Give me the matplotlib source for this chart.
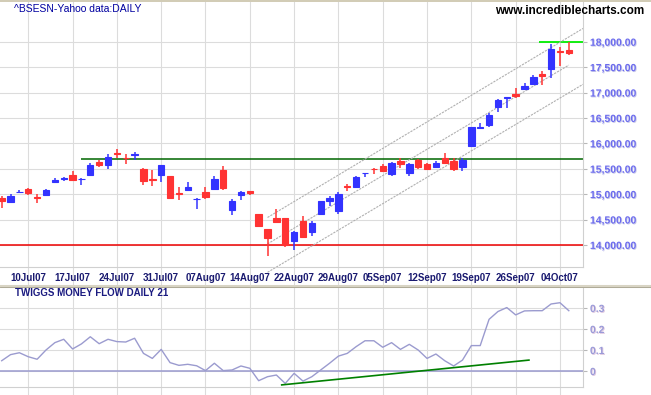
import numpy as np
import matplotlib
matplotlib.use("Agg")
import matplotlib.pyplot as plt
from matplotlib.lines import Line2D
import matplotlib.patheffects as pe

plt.rcParams['font.family'] = ['Liberation Sans', 'DejaVu Sans']

# ---------------- data ----------------
opens = [14933, 14853, 15040, 15107, 14940, 14973, 15233, 15300, 15367, 15293,
         15373, 15627, 15573, 15807, 15720, 15780, 15487, 15293, 15373, 15347,
         15027, 15073, 14900, 15047, 15100, 15469, 14685, 14990, 15067, 14600,
         14323, 14521, 14521, 14073, 14461, 14250, 14606, 14863, 14666, 15166,
         15140, 15410, 15500, 15548, 15403, 15653, 15420, 15673, 15593, 15540,
         15706, 15653, 15540, 15939, 16310, 16357, 16717, 16890, 16969, 17069,
         17169, 17368, 17468, 17810, 17847]
highs = [14967, 15000, 15080, 15127, 15000, 15100, 15320, 15340, 15447, 15313,
         15607, 15667, 15787, 15880, 15787, 15827, 15507, 15467, 15567, 15347,
         15147, 15247, 14920, 15147, 15351, 15548, 14909, 15054, 15067, 14600,
         14323, 14698, 14534, 14283, 14560, 14461, 14857, 14955, 15035, 15199,
         15351, 15423, 15522, 15588, 15641, 15719, 15606, 15692, 15619, 15653,
         15806, 15706, 15719, 16324, 16391, 16604, 16870, 16916, 17082, 17182,
         17348, 17415, 17960, 17900, 17987]
lows = [14733, 14833, 15013, 14973, 14833, 14973, 15233, 15253, 15273, 15173,
        15373, 15533, 15493, 15720, 15600, 15673, 15173, 15153, 15233, 14907,
        14893, 15073, 14713, 14913, 15100, 15081, 14586, 14883, 14988, 14369,
        13780, 14428, 13954, 13895, 14152, 14171, 14606, 14764, 14613, 15054,
        15140, 15344, 15397, 15430, 15357, 15506, 15360, 15493, 15473, 15540,
        15586, 15460, 15460, 15939, 16291, 16324, 16617, 16697, 16890, 17056,
        17169, 17155, 17288, 17521, 17734]
closes = [14873, 14967, 15050, 15013, 14927, 15080, 15287, 15320, 15287, 15300,
          15567, 15573, 15740, 15793, 15707, 15790, 15253, 15280, 15567, 14933,
          15000, 15147, 14910, 14936, 15305, 15114, 14870, 15035, 15021, 14369,
          14142, 14448, 14001, 14264, 14165, 14441, 14857, 14929, 14995, 15147,
          15331, 15423, 15490, 15463, 15621, 15586, 15593, 15540, 15493, 15606,
          15606, 15493, 15673, 16324, 16330, 16564, 16850, 16904, 16923, 17136,
          17302, 17335, 17867, 17800, 17787]
money_flow = [0.049, 0.078, 0.087, 0.068, 0.056, 0.100, 0.135, 0.151, 0.105, 0.129,
              0.163, 0.130, 0.151, 0.140, 0.138, 0.156, 0.084, 0.060, 0.103, 0.040,
              0.027, 0.032, 0.025, 0.002, 0.037, 0.002, 0.005, 0.024, 0.013, -0.046,
              -0.027, -0.019, -0.059, -0.011, -0.048, -0.027, 0.005, 0.037, 0.071, 0.084,
              0.116, 0.144, 0.144, 0.113, 0.135, 0.103, 0.127, 0.100, 0.060, 0.081,
              0.049, 0.024, 0.052, 0.121, 0.121, 0.246, 0.283, 0.302, 0.267, 0.286,
              0.287, 0.287, 0.319, 0.325, 0.287]
tick_idx = [3, 8, 13, 18, 23, 28, 33, 38, 43, 48, 53, 58, 63]
tick_labels = ["10Jul07", "17Jul07", "24Jul07", "31Jul07", "07Aug07", "14Aug07",
               "22Aug07", "29Aug07", "05Sep07", "12Sep07", "19Sep07", "26Sep07", "04Oct07"]
price_ticks = [14000, 14500, 15000, 15500, 16000, 16500, 17000, 17500, 18000]
mf_ticks = [0, 0.1, 0.2, 0.3]
mf_tick_labels = ["0", "0.1", "0.2", "0.3"]

# analyst lines
support_level = 14000
resistance_level = 15700
resistance_start = 9
target_level = 18000
target_start = 60.6
channel_upper = ([30, 65.6], [14540, 18262])
channel_mid = ([30, 64], [14020, 17540])
channel_lower = ([30, 65.6], [13460, 17162])
mf_trend = ([31.6, 59.5], [-0.066, 0.052])

# ---------------- figure ----------------
W, H = 651, 395
fig = plt.figure(figsize=(W / 100, H / 100), dpi=100)
fig.patch.set_facecolor('white')

def fy(py):
    return 1 - py / H

right_px = 583
ax1 = fig.add_axes([0, fy(267), right_px / W, (267 - 2) / H])
ax2 = fig.add_axes([0, fy(387), right_px / W, (387 - 288) / H])

GRID = '#dcdcdc'
BLUE = '#3333ff'
RED = '#ff3333'
XMIN, XMAX = -0.19, 65.6

x = np.arange(len(opens))
o = np.array(opens); c = np.array(closes); h = np.array(highs); l = np.array(lows)
cols = [BLUE if cc >= oo else RED for oo, cc in zip(o, c)]

ax1.vlines(x, l, h, colors=cols, lw=1.1, zorder=3)
ax1.bar(x, np.abs(c - o), bottom=np.minimum(o, c), width=0.72, color=cols,
        edgecolor=cols, linewidth=0.8, zorder=4)

ax1.axhline(support_level, color='#ee0000', lw=1.1, zorder=2)
ax1.hlines(resistance_level, resistance_start, XMAX, color='#006600', lw=1.1, zorder=2)
ax1.hlines(target_level, target_start, XMAX, color='#00ee00', lw=1.3, zorder=2)
for xs, ys in (channel_upper, channel_mid, channel_lower):
    ax1.plot(xs, ys, color='#b0b0b0', lw=0.8, ls=(0, (2, 1)), zorder=2, clip_on=False)

ax1.set_xlim(XMIN, XMAX)
ax1.set_ylim(13565, 18783)
ax1.set_yticks(price_ticks)
ax1.set_yticklabels([f"{v:,.2f}" for v in price_ticks])
ax1.yaxis.tick_right()
ax1.set_xticks(tick_idx)
ax1.set_xticklabels(tick_labels)
ax1.grid(True, color=GRID, lw=0.8)
ax1.set_axisbelow(True)
ax1.tick_params(axis='y', length=3, color='#b8b8b8', pad=2, labelsize=7.5,
                labelcolor='#6b6bee')
ax1.tick_params(axis='x', length=13.5, width=0.8, color=GRID, pad=-9.5, labelsize=7,
                labelcolor='#1a1a70')
for lab in ax1.get_xticklabels():
    lab.set_fontweight('bold')
for lab in ax1.get_yticklabels():
    lab.set_fontweight('bold')
    lab.set_path_effects([pe.withSimplePatchShadow(offset=(0.6, -0.6), shadow_rgbFace='#c8c8e8', alpha=1)])

for ax in (ax1, ax2):
    for s in ('top', 'left'):
        ax.spines[s].set_visible(False)
    for s in ('right', 'bottom'):
        ax.spines[s].set_color('#d0d0d0')
        ax.spines[s].set_linewidth(0.8)

# lower panel
ax2.plot(x, money_flow, color='#9b9bcf', lw=1.0, zorder=3)
ax2.axhline(0, color='#9b9bcf', lw=1.1, zorder=2)
ax2.plot(mf_trend[0], mf_trend[1], color='#008000', lw=1.2, zorder=3)
ax2.set_xlim(XMIN, XMAX)
ax2.set_ylim(-0.076, 0.395)
ax2.set_xticks(tick_idx)
ax2.set_xticklabels([])
ax2.set_yticks(mf_ticks)
ax2.set_yticklabels(mf_tick_labels)
ax2.yaxis.tick_right()
ax2.grid(True, color=GRID, lw=0.8)
ax2.set_axisbelow(True)
ax2.tick_params(axis='x', length=6, width=0.8, color=GRID)
ax2.tick_params(axis='y', length=3, color='#b8b8b8', pad=2, labelsize=7.5,
                labelcolor='#9a9ad8')
for lab in ax2.get_yticklabels():
    lab.set_fontweight('bold')
    lab.set_path_effects([pe.withSimplePatchShadow(offset=(0.6, -0.6), shadow_rgbFace='#e0c8e0', alpha=1)])

# texts
fig.text(14 / W, fy(8.5), "^BSESN-Yahoo data:DAILY", fontsize=7.5, color='#0000a0',
         ha='left', va='center')
fig.text(644 / W, fy(10.5), "www.incrediblecharts.com", fontsize=8.5, color='black',
         fontweight='bold', ha='right', va='center')
fig.text(15 / W, fy(293.5), "TWIGGS MONEY FLOW DAILY 21", fontsize=7, color='#1a1a80',
         fontweight='bold', ha='left', va='center')

# borders / separator
fig.add_artist(Line2D([0, 1], [fy(0.7), fy(0.7)], transform=fig.transFigure,
                      color='#c9c2a8', lw=1.2))
fig.add_artist(Line2D([0, 1], [fy(285.8), fy(285.8)], transform=fig.transFigure,
                      color='#d8d4c4', lw=2.2))
fig.add_artist(Line2D([0, 1], [fy(287.2), fy(287.2)], transform=fig.transFigure,
                      color='#a8a490', lw=0.6))

fig.savefig("out.png", dpi=100)
